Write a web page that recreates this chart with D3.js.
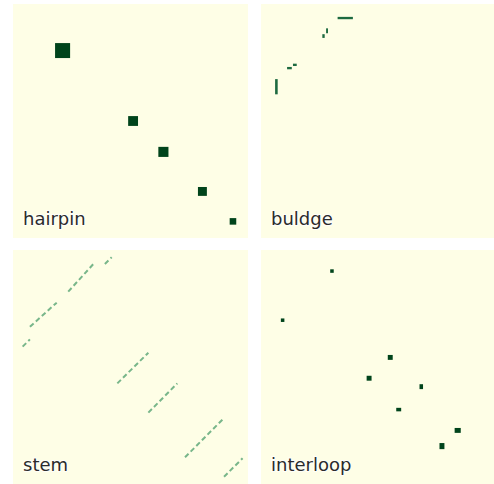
<!DOCTYPE html>
<html>
<head>
<meta charset="utf-8">
<script src="https://cdn.jsdelivr.net/npm/d3@7"></script>
<style>
  html, body { margin: 0; padding: 0; background: #fff; }
  svg { display: block; }
  .label { font-family: "DejaVu Sans", sans-serif; font-size: 18px; fill: #2b2b2b;
           stroke: #fff; stroke-width: 2px; paint-order: stroke; stroke-opacity: 0.8; }
</style>
</head>
<body>
<div id="chart"></div>
<script>
// panel names (facet order)
var panels = ["hairpin", "buldge", "stem", "interloop"];

// hairpin: pair cells (sequence position i, j) and block span
var hairpinI = [21.1, 51.1, 64.0, 80.6, 93.6];
var hairpinJ = [19.9, 50.0, 63.2, 80.1, 92.9];
var hairpinSpan = [6.4, 4.2, 4.3, 3.8, 2.8];

// buldge: blocks as [i0, i1] x [j0, j1]
var buldgeI0 = [32.6, 27.7, 26.1, 11.1, 13.6, 6.0];
var buldgeI1 = [39.1, 28.5, 27.1, 13.1, 15.2, 7.1];
var buldgeJ0 = [5.5, 10.4, 12.9, 26.9, 25.5, 32.1];
var buldgeJ1 = [6.5, 12.5, 14.5, 27.9, 26.5, 38.6];

// stem: diagonal runs from (i0, j0) to (i1, j1)
var stemI0 = [4.1, 7.2, 23.5, 39.1, 44.4, 57.6, 73.2, 89.8];
var stemJ0 = [41.3, 32.8, 17.8, 6.0, 57.0, 69.5, 88.6, 96.9];
var stemI1 = [7.2, 18.6, 34.2, 42.0, 57.6, 69.9, 89.2, 97.7];
var stemJ1 = [38.2, 22.5, 6.0, 3.1, 43.9, 57.0, 72.4, 89.0];

// interloop: cells with width / height spans
var loopI = [30.2, 9.2, 55.0, 46.0, 68.2, 58.6, 83.7, 77.0];
var loopJ = [9.0, 30.0, 45.9, 54.8, 58.4, 68.2, 77.1, 83.8];
var loopW = [1.5, 1.5, 2.1, 2.1, 1.5, 2.1, 2.6, 2.1];
var loopH = [1.5, 1.5, 2.1, 2.1, 2.1, 1.5, 2.1, 2.6];

var W = 494, H = 484;
var panelW = 235, panelH = 234;
var colX = [13, 261], rowY = [4, 250];
var bg = "#fefee6", dark = "#00441b", mid = "#1d6a40", light = "#78b68a";

var svg = d3.select("#chart").append("svg").attr("width", W).attr("height", H);

var x = d3.scaleLinear().domain([0, 100]).range([0, panelW]);
var y = d3.scaleLinear().domain([0, 100]).range([0, panelH]);

panels.forEach(function(name, k) {
    var g = svg.append("g")
        .attr("transform", "translate(" + colX[k % 2] + "," + rowY[Math.floor(k / 2)] + ")");
    g.append("rect").attr("width", panelW).attr("height", panelH).attr("fill", bg);

    if (name == "hairpin") {
        g.selectAll(".cell").data(d3.range(hairpinI.length)).enter().append("rect")
            .attr("x", function(i) { return x(hairpinI[i] - hairpinSpan[i] / 2); })
            .attr("y", function(i) { return y(hairpinJ[i] - hairpinSpan[i] / 2); })
            .attr("width", function(i) { return x(hairpinSpan[i]) - x(0); })
            .attr("height", function(i) { return y(hairpinSpan[i]) - y(0); })
            .attr("fill", dark);
    }
    if (name == "buldge") {
        g.selectAll(".cell").data(d3.range(buldgeI0.length)).enter().append("rect")
            .attr("x", function(i) { return x(buldgeI0[i]); })
            .attr("y", function(i) { return y(buldgeJ0[i]); })
            .attr("width", function(i) { return x(buldgeI1[i]) - x(buldgeI0[i]); })
            .attr("height", function(i) { return y(buldgeJ1[i]) - y(buldgeJ0[i]); })
            .attr("fill", mid);
    }
    if (name == "stem") {
        g.selectAll(".run").data(d3.range(stemI0.length)).enter().append("line")
            .attr("x1", function(i) { return x(stemI0[i]); })
            .attr("y1", function(i) { return y(stemJ0[i]); })
            .attr("x2", function(i) { return x(stemI1[i]); })
            .attr("y2", function(i) { return y(stemJ1[i]); })
            .attr("stroke", light)
            .attr("stroke-width", 2)
            .attr("stroke-dasharray", "5,3");
    }
    if (name == "interloop") {
        g.selectAll(".cell").data(d3.range(loopI.length)).enter().append("rect")
            .attr("x", function(i) { return x(loopI[i] - loopW[i] / 2); })
            .attr("y", function(i) { return y(loopJ[i] - loopH[i] / 2); })
            .attr("width", function(i) { return x(loopW[i]) - x(0); })
            .attr("height", function(i) { return y(loopH[i]) - y(0); })
            .attr("fill", dark);
    }

    g.append("text").attr("class", "label")
        .attr("x", 10)
        .attr("y", 221)
        .text(name);
});
</script>
</body>
</html>
